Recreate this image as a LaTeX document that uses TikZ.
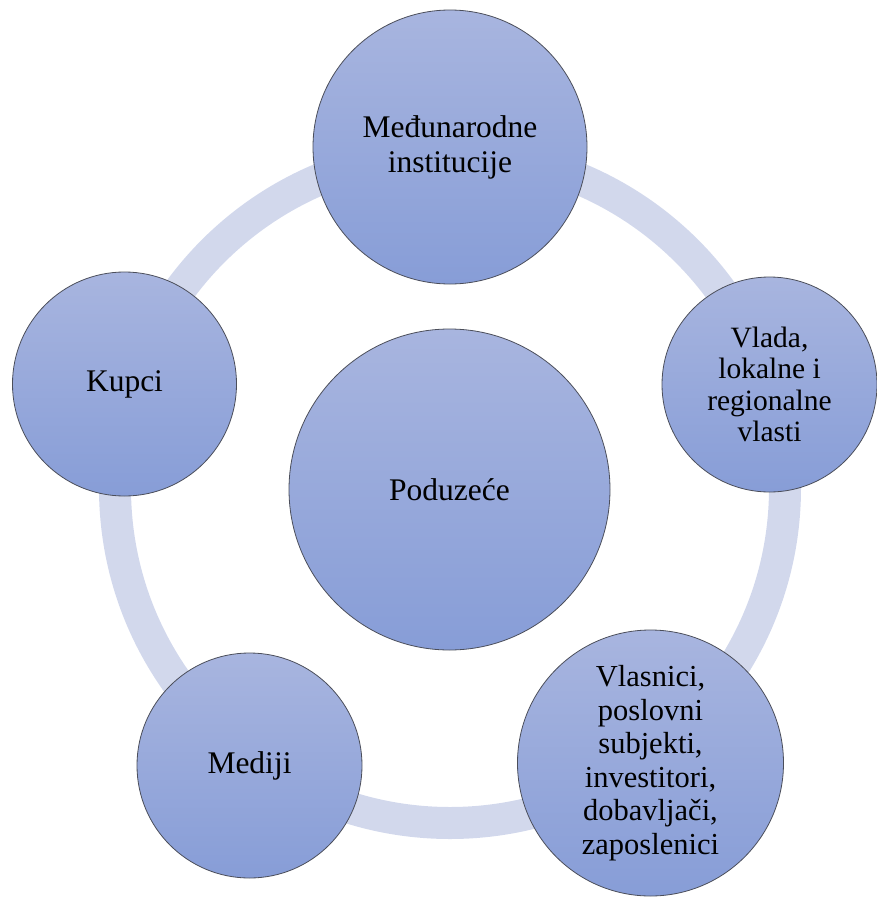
\documentclass[tikz,border=0pt]{standalone}
\usepackage{fontspec}
\setmainfont{Liberation Serif}
\definecolor{ringblue}{RGB}{210,216,236}
\definecolor{circtop}{RGB}{168,181,223}
\definecolor{circbot}{RGB}{135,157,215}
\definecolor{circline}{RGB}{75,78,90}
\begin{document}
\begin{tikzpicture}[x=1pt,y=-1pt]
    \useasboundingbox (0,0) rectangle (876,905);
    \coordinate (mid) at (450,488);
    \draw [ringblue, line width=32pt] (mid) circle [radius=335];

    \begin{scope}[every node/.style={circle,draw=circline,line width=0.8pt,
        top color=circtop,bottom color=circbot,inner sep=0pt,align=center,
        font=\fontsize{31.5}{35}\selectfont}]
      \node [minimum size=321pt] (pod) at (449.5,489.5) {Poduzeće};
      \node [minimum size=274pt] (medj) at (450,147) {Međunarodne\\institucije};
      \node [minimum size=215pt, font=\fontsize{29.5}{31.5}\selectfont]
        (vlada) at (769.5,384.5) {Vlada,\\lokalne i\\regionalne\\vlasti};
      \node [minimum size=266pt, font=\fontsize{30.5}{33.5}\selectfont]
        (vlasnici) at (650.5,763) {Vlasnici,\\poslovni\\subjekti,\\investitori,\\dobavljači,\\zaposlenici};
      \node [minimum size=225pt] (mediji) at (249.5,765.5) {Mediji};
      \node [minimum size=224pt] (kupci) at (124.5,384) {Kupci};
    \end{scope}
  \end{tikzpicture}
\end{document}
